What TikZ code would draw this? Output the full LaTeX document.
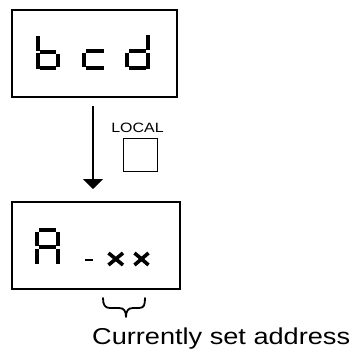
\documentclass[tikz,border=0pt]{standalone}
\usepackage{fontspec}
\setmainfont{Liberation Sans}
\newfontfamily\widesans[FakeStretch=1.18]{Liberation Sans}
\usetikzlibrary{arrows.meta}
\tikzset{
  dispbox/.style={draw, line width=2pt, inner sep=0pt},
  keybox/.style={draw, line width=1.4pt, inner sep=0pt, minimum width=34pt, minimum height=33pt},
  seg/.style={line width=3.2pt, line cap=butt},
  xmark/.style={line width=3.6pt, line cap=butt},
  flow/.style={line width=1.5pt, -{Triangle[width=20pt,length=10pt]}},
  brace/.style={line width=1.8pt, line cap=round, line join=round},
  lbl/.style={inner sep=0pt, font=\widesans}
}
\begin{document}
\begin{tikzpicture}[x=1pt,y=-1pt]
\useasboundingbox (0,0) rectangle (353,356);
% display boxes
\node[dispbox, minimum width=165pt, minimum height=87pt] (top) at (94.5,53.5) {};
\node[dispbox, minimum width=168pt, minimum height=87pt] (bot) at (96,245.5) {};
% b
\draw[seg] (38,36)--(38,50.5) (38,53)--(38,68.5) (40,52)--(56,52) (58,53.5)--(58,67) (40,68)--(56,68);
% c
\draw[seg] (84,52.5)--(84,66.5) (86,51)--(104,51) (86,68)--(104,68);
% d
\draw[seg] (148,35)--(148,50) (148,52.5)--(148,68.5) (129,51)--(146,51) (127,52.5)--(127,66.5) (129,68)--(146,68);
% A
\draw[seg] (39,230)--(56,230) (37,232)--(37,245.5) (58,232)--(58,245.5) (39,247)--(56,247) (37,248.5)--(37,263.5) (58,248.5)--(58,263.5);
% - x x
\draw[line width=2.8pt] (85,260)--(92.5,260);
\draw[xmark] (108.5,253)--(123,265) (108.5,265)--(123,253);
\draw[xmark] (134.5,253)--(148.5,265) (134.5,265)--(148.5,253);
% arrow
\coordinate (ax) at (93,0);
\draw[flow, shorten <=8pt, shorten >=12pt] (top.south -| ax) -- (bot.north -| ax);
% LOCAL key
\node[lbl, font=\widesans\fontsize{13.5pt}{15pt}\selectfont] (loc) at (137.5,128) {LOCAL};
\node[keybox] (key) at (140.5,155) {};
% brace
\coordinate (bl) at (103,298);
\coordinate (br) at (145,298);
\coordinate (bt) at (126,317);
\draw[brace] (bl) .. controls (103,305) and (105,308) .. (110,308) -- (119,308) .. controls (124,308) and (126,311) .. (bt)
  .. controls (126,311) and (128,308) .. (133,308) -- (139,308) .. controls (144,308) and (145,305) .. (br);
\node[lbl, anchor=base west, font=\widesans\fontsize{23pt}{27pt}\selectfont] (cap) at (92,344) {Currently set address};
\end{tikzpicture}
\end{document}
